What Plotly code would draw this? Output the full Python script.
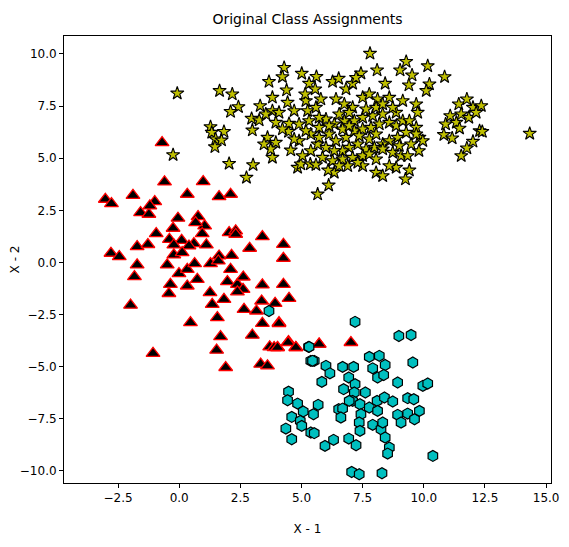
import plotly.graph_objects as go

# Positions (zoomed crops), then mapped to data units
# via the axis ticks: x: 0.0 at px 177, 24.4 px/unit ; y: 0.0 at px 261.5, 20.85 px/unit
def to_data(pts, ox, oy):
    xs = [round(((ox + zx / 3) - 177) / 24.4, 2) for zx, zy in pts]
    ys = [round((261.5 - (oy + zy / 3)) / 20.85, 2) for zx, zy in pts]
    return xs, ys

tri_read = [(240,35),(247,153),(363,152),(315,190),(410,197),(445,190),(70,205),(88,218),(153,193),(175,245),(200,250),(218,212),(203,225),(287,262),(347,257),(367,285),(273,292),(222,308),(340,275),(360,308),(165,347),(197,341),(87,367),(112,377),(262,325),(298,328),(275,342),(335,338),(372,342),(320,345),(275,372),(300,365),(440,305),(460,300),(460,310),(540,317),(502,352),(603,340),(603,382),(448,373),(410,375),(385,398),(408,390),(255,402),(165,402),(157,437),(290,428),(315,415),(337,398),(345,445),(315,465),(265,460),(260,488),(445,415),(435,452),(465,460),(483,438),(482,475),(465,483),(540,462),(603,460),(620,502),(383,485),(390,520),(425,505),(145,523),(325,575),(405,560),(485,535),(522,540),(538,510),(578,517),(540,577),(510,613),(590,575),(415,617),(403,658),(213,667),(562,648),(585,650),(618,632),(640,650),(710,640),(430,710),(535,700),(555,705)]
tri_extra = [(20,38),(47,95),(70,110),(140,100),(235,95),(5,110),(15,110)]
hex_read = [(247,33),(378,75),(415,72),(108,108),(115,150),(125,150),(160,165),(172,187),(148,213),(210,168),(243,168),(290,138),(320,135),(300,172),(337,162),(315,200),(333,192),(420,155),(375,215),(450,225),(465,218),(48,242),(45,268),(75,278),(92,302),(137,282),(123,310),(58,318),(83,330),(88,345),(40,353),(58,385),(115,365),(125,367),(157,405),(183,387),(228,383),(250,403),(213,235),(228,200),(247,220),(245,245),(278,245),(240,270),(262,280),(198,295),(210,293),(205,320),(265,310),(260,335),(262,360),(290,290),(313,270),(335,260),(360,272),(315,300),(300,342),(325,355),(337,380),(350,410),(345,428),(375,312),(385,335),(405,308),(425,325),(440,300),(405,262),(423,265),(480,435),(237,483),(260,490),(328,487),(230,270),(330,335)]
hex_extra = [(560,540),(680,648),(690,690)]
star_read = [(622,38),(730,62),(712,88),(795,75),(748,103),(845,108),(643,88),(595,97),(667,128),(738,133),(800,130),(790,150),(365,80),(360,108),(320,122),(418,98),(462,107),(440,128),(510,122),(528,113),(550,145),(570,128),(580,110),(372,148),(330,170),(375,185),(45,157),(172,150),(210,160),(228,198),(205,212),(293,195),(268,233),(290,238),(270,268),(145,258),(148,275),(185,272),(160,295),(178,298),(158,318),(33,342),(200,368),(272,372),(252,410),(465,460),(498,433),(515,395),(497,388),(405,380),(415,370),(443,370),(460,372),(330,350),(315,290),(340,305),(325,325),(305,310),(385,328),(410,300),(378,272),(380,248),(410,250),(430,180),(435,210),(460,200),(475,175),(458,145),(428,160),(520,175),(545,190),(570,200),(600,170),(620,160),(645,175),(680,170),(720,180),(760,190),(765,215),(700,215),(690,200),(660,220),(630,225),(600,230),(575,240),(545,240),(515,250),(490,235),(470,260),(445,280),(430,270),(500,280),(520,300),(550,290),(575,270),(600,265),(625,260),(650,250),(680,245),(700,255),(720,240),(740,240),(760,260),(770,290),(780,300),(760,280),(730,275),(705,290),(680,300),(660,310),(635,320),(610,325),(585,310),(560,320),(540,330),(515,330),(490,320),(465,310),(445,330),(420,345),(480,350),(510,360),(540,355),(570,350),(600,345),(620,340),(640,355),(660,325),(690,335),(715,345),(735,345),(768,330),(700,380),(680,375),(640,395),(660,405),(600,375),(585,365),(555,375),(530,375),(740,388),(728,415),(848,250),(843,282),(868,292),(862,225),(888,190),(912,175),(930,200),(955,195),(895,220),(918,230),(880,245),(890,262),(940,215),(950,270),(958,272),(930,302),(912,322),(895,345),(1100,278),(330,210),(310,220),(350,215),(395,210),(340,245),(360,265),(440,240),(470,230),(530,220),(560,215),(610,205),(640,200),(660,190),(590,285),(620,295),(640,280),(470,290),(395,295),(710,315),(745,310),(540,265),(500,255),(560,255)]

tri_x, tri_y = to_data(tri_read, 80, 130)
t2x, t2y = to_data(tri_extra, 270, 310)
tri_x += t2x; tri_y += t2y
hex_x, hex_y = to_data(hex_read, 270, 310)
h2x, h2y = to_data(hex_extra, 80, 130)
hex_x += h2x; hex_y += h2y
star_x, star_y = to_data(star_read, 160, 40)

fig = go.Figure()
fig.add_trace(go.Scatter(x=tri_x, y=tri_y, mode="markers",
    marker=dict(symbol="triangle-up", size=12, color="black", line=dict(color="red", width=1.3))))
fig.add_trace(go.Scatter(x=hex_x, y=hex_y, mode="markers",
    marker=dict(symbol="hexagon", size=11, color="#00bfbf", line=dict(color="black", width=1.2))))
fig.add_trace(go.Scatter(x=star_x, y=star_y, mode="markers",
    marker=dict(symbol="star", size=10, color="#bfbf00", line=dict(color="black", width=1.1))))

axis = dict(showgrid=False, zeroline=False, showline=True, linecolor="black", mirror=True,
            ticks="outside", ticklen=4, tickcolor="black", tickfont=dict(size=12, color="black"),
            automargin=False)
fig.update_layout(
    width=569, height=547, showlegend=False, plot_bgcolor="white", paper_bgcolor="white",
    margin=dict(l=56, r=26, t=28, b=72, autoexpand=False),
    font=dict(family="DejaVu Sans", color="black"),
    title=dict(text="Original Class Assignments", x=0.5, xanchor="center", y=0.98, yanchor="middle",
               xref="paper", font=dict(size=14), automargin=False),
    xaxis=dict(axis, range=[-4.71, 15.2], tickvals=[-2.5,0,2.5,5,7.5,10,12.5,15],
               ticktext=["−2.5","0.0","2.5","5.0","7.5","10.0","12.5","15.0"],
               title=dict(text="X - 1", font=dict(size=12), standoff=20)),
    yaxis=dict(axis, range=[-10.58, 10.86], tickvals=[-10,-7.5,-5,-2.5,0,2.5,5,7.5,10],
               ticktext=["−10.0","−7.5","−5.0","−2.5","0.0","2.5","5.0","7.5","10.0"],
               title=dict(text="X - 2", font=dict(size=12), standoff=0)),
)
fig.write_html("out.html")
